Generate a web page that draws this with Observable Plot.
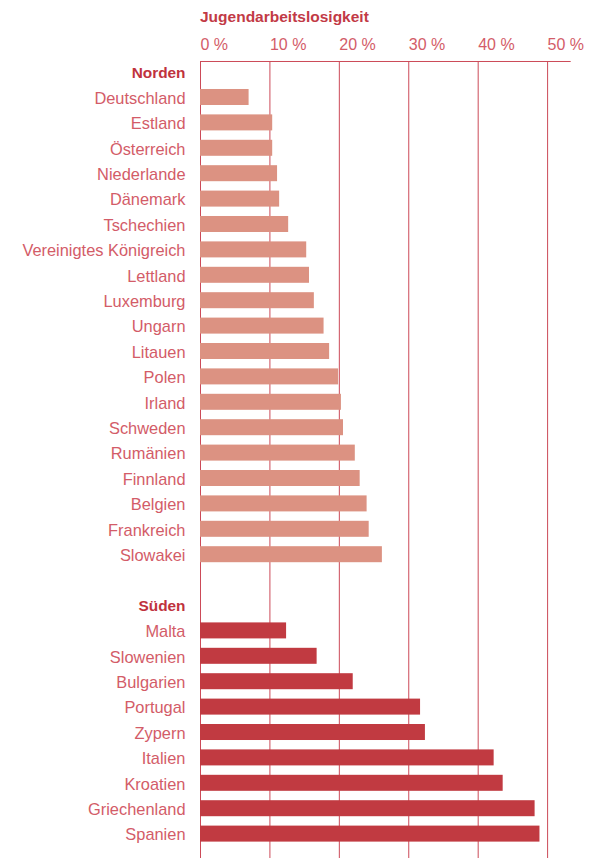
<!DOCTYPE html>
<html>
<head>
<meta charset="utf-8">
<script src="https://cdn.jsdelivr.net/npm/d3@7"></script>
<script src="https://cdn.jsdelivr.net/npm/@observablehq/plot@0.6"></script>
<style>
  html, body { margin: 0; padding: 0; background: #fff; }
  #wrap { position: relative; width: 597px; height: 858px; overflow: hidden; }
  #title { position: absolute; left: 200px; top: 9px; font: bold 15.5px/16px "Liberation Sans", Arial, sans-serif; color: #c23a46; white-space: nowrap; }
  #chart { position: absolute; left: 0; top: 30px; }
  svg { font-family: "Liberation Sans", Arial, sans-serif; }
</style>
</head>
<body>
<div id="wrap">
  <div id="title">Jugendarbeitslosigkeit</div>
  <div id="chart"></div>
</div>
<script>
const gruppen = ["Norden", "Süden"];
const nordenLaender = ["Deutschland", "Estland", "Österreich", "Niederlande", "Dänemark", "Tschechien", "Vereinigtes Königreich", "Lettland", "Luxemburg", "Ungarn", "Litauen", "Polen", "Irland", "Schweden", "Rumänien", "Finnland", "Belgien", "Frankreich", "Slowakei"];
const nordenWerte = [7.0, 10.4, 10.4, 11.1, 11.4, 12.7, 15.3, 15.7, 16.4, 17.8, 18.6, 19.9, 20.3, 20.6, 22.3, 23.0, 24.0, 24.3, 26.2];
const suedenLaender = ["Malta", "Slowenien", "Bulgarien", "Portugal", "Zypern", "Italien", "Kroatien", "Griechenland", "Spanien"];
const suedenWerte = [12.4, 16.8, 22.0, 31.7, 32.4, 42.3, 43.6, 48.2, 48.9];
const xTicks = [0, 10, 20, 30, 40, 50];
const xTickLabels = ["0 %", "10 %", "20 %", "30 %", "40 %", "50 %"];
const xMax = 53.4;

const farbeNord = "#dc9282";
const farbeSued = "#c13a41";
const farbeText = "#d35c68";
const farbeKopf = "#c0323d";
const farbeLinie = "#cc4a58";

const nord = nordenLaender.map((land, i) => ({land, wert: nordenWerte[i]}));
const sued = suedenLaender.map((land, i) => ({land, wert: suedenWerte[i]}));
const zeilen = [gruppen[0], ...nordenLaender, " ", gruppen[1], ...suedenLaender];

const plot = Plot.plot({
  width: 597,
  height: 828,
  marginTop: 31,
  marginBottom: 0,
  marginLeft: 200,
  marginRight: 26.3,
  insetBottom: 13.8,
  x: {domain: [0, xMax], axis: null},
  y: {domain: zeilen, axis: null, paddingInner: 0.37, paddingOuter: 0.102, round: false},
  marks: [
    Plot.ruleX(xTicks, {x: d => d, stroke: farbeLinie, strokeWidth: 1}),
    Plot.ruleY([gruppen[0]], {y: d => d, x1: 0, x2: xMax, dy: -10.6, stroke: farbeLinie, strokeWidth: 1}),
    Plot.barX(nord, {x: "wert", y: "land", fill: farbeNord}),
    Plot.barX(sued, {x: "wert", y: "land", fill: farbeSued}),
    Plot.text([...nord, ...sued], {x: 0, y: "land", text: "land", textAnchor: "end", dx: -15, dy: 1, fill: farbeText, fontSize: 16.4}),
    Plot.text(gruppen, {x: 0, y: d => d, text: d => d, textAnchor: "end", dx: -15, dy: 1, fill: farbeKopf, fontSize: 15.4, fontWeight: "bold"}),
    Plot.text(xTicks, {x: d => d, text: (d, i) => xTickLabels[i], frameAnchor: "top", textAnchor: "start", lineAnchor: "bottom", dy: -12, fill: farbeText, fontSize: 16})
  ]
});
document.getElementById("chart").appendChild(plot);
</script>
</body>
</html>
